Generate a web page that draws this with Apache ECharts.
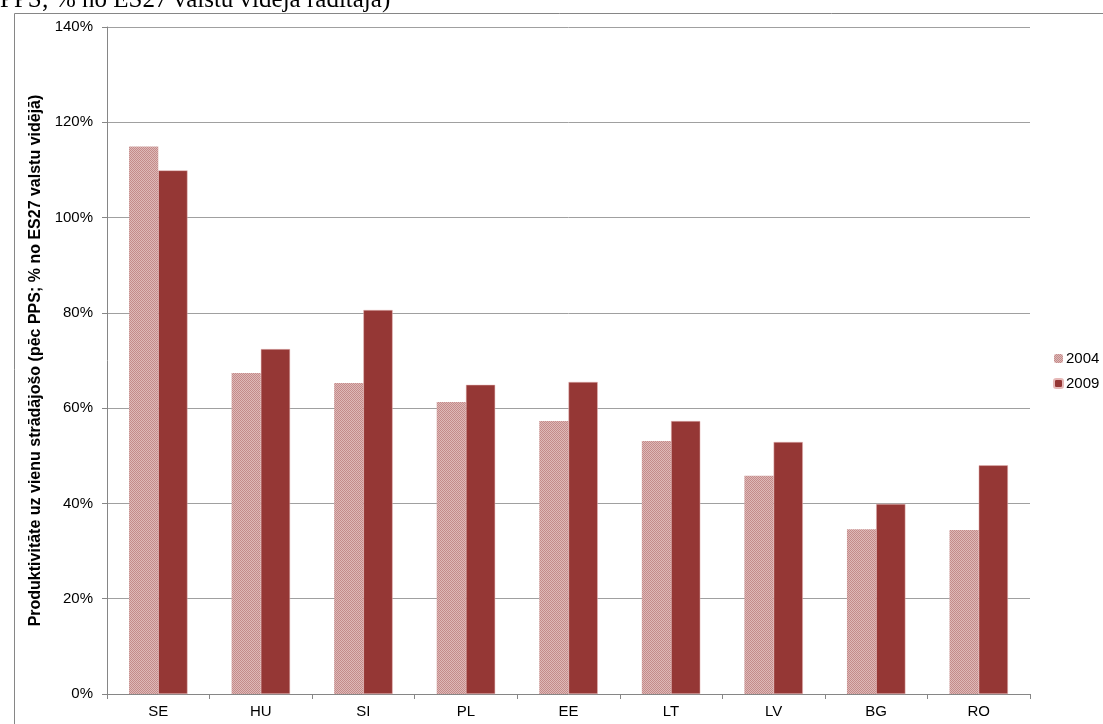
<!DOCTYPE html>
<html>
<head>
<meta charset="utf-8">
<script src="https://cdn.jsdelivr.net/npm/echarts@6/dist/echarts.min.js"></script>
<style>
html, body { margin: 0; padding: 0; background: #fff; }
#main { width: 1103px; height: 724px; }
</style>
</head>
<body>
<div id="main"></div>
<script>
var categories = ['SE', 'HU', 'SI', 'PL', 'EE', 'LT', 'LV', 'BG', 'RO'];
var values2004 = [114.9, 67.4, 65.3, 61.3, 57.3, 53.1, 45.8, 34.6, 34.4];
var values2009 = [109.9, 72.4, 80.6, 64.9, 65.5, 57.3, 52.9, 39.9, 48.0];
var yTicks = [0, 20, 40, 60, 80, 100, 120, 140];

// checkered fill like the excel pattern
function checker() {
    var c = document.createElement('canvas');
    c.width = 2; c.height = 2;
    var ctx = c.getContext('2d');
    ctx.fillStyle = '#deb9b8';
    ctx.fillRect(0, 0, 2, 2);
    ctx.fillStyle = '#c48b8a';
    ctx.fillRect(0, 0, 1, 1);
    ctx.fillRect(1, 1, 1, 1);
    return c;
}

var chart = echarts.init(document.getElementById('main'));
var option = {
    animation: false,
    textStyle: { fontFamily: 'Liberation Sans, Arial, sans-serif' },
    graphic: [
        {
            type: 'rect',
            left: 12, top: 11,
            shape: { width: 1100, height: 720 },
            style: { fill: 'none', stroke: '#868686', lineWidth: 1 }
        },
        {
            type: 'text',
            left: 0, top: -12,
            z: 10,
            style: {
                text: 'PPS; % no ES27 valstu vidējā rādītāja)',
                font: '25px "Liberation Serif", "DejaVu Serif", serif',
                fill: '#000'
            }
        }
    ],
    legend: {
        orient: 'vertical',
        left: 1048,
        top: 346,
        itemWidth: 9,
        itemHeight: 9,
        itemGap: 10,
        textStyle: { fontSize: 15, color: '#000', padding: [0, 0, 0, -2] },
        data: ['2004', '2009']
    },
    grid: { left: 107, right: 73, top: 27, bottom: 30 },
    xAxis: {
        type: 'category',
        data: categories,
        axisLine: { lineStyle: { color: '#868686' } },
        axisTick: { show: true, alignWithLabel: false, length: 5, lineStyle: { color: '#868686' } },
        axisLabel: { color: '#000', fontSize: 15, margin: 10 }
    },
    yAxis: {
        type: 'value',
        min: yTicks[0],
        max: yTicks[yTicks.length - 1],
        interval: 20,
        name: 'Produktivitāte uz vienu strādājošo (pēc PPS; % no ES27 valstu vidējā)',
        nameLocation: 'middle',
        nameGap: 62,
        nameTextStyle: { fontSize: 16, fontWeight: 'bold', color: '#000' },
        axisLine: { show: true, lineStyle: { color: '#868686' } },
        axisTick: { show: true, length: 5, inside: false, lineStyle: { color: '#868686' } },
        axisLabel: { color: '#000', fontSize: 15, margin: 14, formatter: '{value}%' },
        splitLine: { lineStyle: { color: '#a0a0a0' } }
    },
    series: [
        {
            name: '2004',
            type: 'bar',
            data: values2004,
            barGap: '0%',
            barCategoryGap: '43%',
            itemStyle: { color: { image: checker(), repeat: 'repeat' } }
        },
        {
            name: '2009',
            type: 'bar',
            data: values2009,
            itemStyle: { color: '#953735', borderColor: '#e6b9b8', borderWidth: 0.5 }
        }
    ]
};
chart.setOption(option);
</script>
</body>
</html>
